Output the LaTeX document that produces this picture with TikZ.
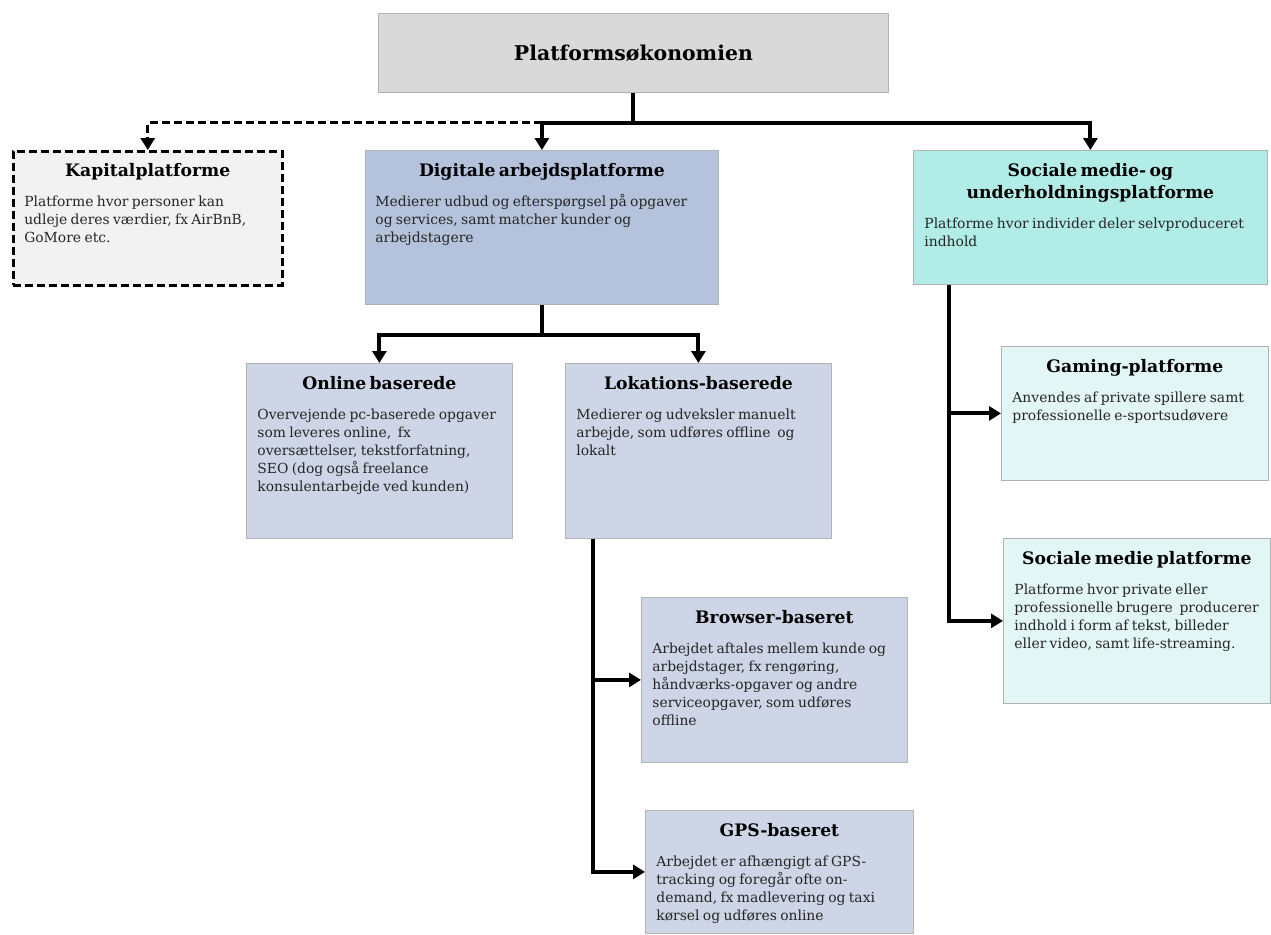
\documentclass[tikz,border=0pt]{standalone}
\usepackage{fontspec}
\setmainfont{DejaVu Serif}
\usetikzlibrary{arrows.meta,positioning}
\setlength{\parindent}{0pt}

\definecolor{topgray}{HTML}{D9D9D9}
\definecolor{kapgray}{HTML}{F2F2F2}
\definecolor{digblue}{HTML}{B4C2DC}
\definecolor{subblue}{HTML}{CDD5E6}
\definecolor{socteal}{HTML}{B2ECE6}
\definecolor{subteal}{HTML}{E2F6F5}

\newcommand{\headfont}{\bfseries\fontsize{17.2}{22}\selectfont}
\newcommand{\bodyfont}{\fontsize{13.9}{18}\selectfont}
% overskrift + broedtekst i en boks
\newcommand{\boxcontent}[2]{{\centering\headfont #1\par}\vspace{12pt}{\raggedright\bodyfont\color{black!85}#2\par}}

\begin{document}
\begin{tikzpicture}[x=1pt, y=-1pt,
    card/.style={draw=black!30, line width=0.8pt, anchor=north west, inner sep=0},
    cardtext/.style={anchor=north, text width=#1, inner sep=0},
    link/.style={line width=4pt, -{Triangle[length=12pt,width=14pt]}},
    dashlink/.style={link, line width=3pt, dash pattern=on 8pt off 4pt}]
    \useasboundingbox (0,0) rectangle (1271,934);

    % Top
    \node[card, fill=topgray, minimum width=510, minimum height=79] (top) at (378,13) {};
    \node[font=\bfseries\fontsize{20.4}{24}\selectfont] (toptxt) at (top.center) {Platformsøkonomien};

    % Niveau 1
    \node[card, draw=black, line width=2.5pt, dash pattern=on 8pt off 4pt, fill=kapgray,
          minimum width=269, minimum height=134] (kap) at (12,150) {};
    \node[cardtext=247, below=13pt of kap.north] (kaptxt) {\boxcontent{Kapitalplatforme}%
        {Platforme hvor personer kan\\ udleje deres værdier, fx AirBnB,\\ GoMore etc.}};

    \node[card, fill=digblue, minimum width=353, minimum height=154] (dig) at (365,150) {};
    \node[cardtext=333, below=13pt of dig.north] (digtxt) {\boxcontent{Digitale arbejdsplatforme}%
        {Medierer udbud og efterspørgsel på opgaver\\ og services, samt matcher kunder og\\ arbejdstagere}};

    \node[card, fill=socteal, minimum width=354, minimum height=134] (soc) at (913,150) {};
    \node[cardtext=332, below=13pt of soc.north] (soctxt) {\boxcontent{Sociale medie- og\\ underholdningsplatforme}%
        {Platforme hvor individer deler selvproduceret\\ indhold}};

    % Niveau 2 - digitale
    \node[card, fill=subblue, minimum width=266, minimum height=175] (onl) at (246,363) {};
    \node[cardtext=244, below=13pt of onl.north] (onltxt) {\boxcontent{Online baserede}%
        {Overvejende pc-baserede opgaver\\ som leveres online,~ fx\\ oversættelser, tekstforfatning,\\ SEO (dog også freelance\\ konsulentarbejde ved kunden)}};

    \node[card, fill=subblue, minimum width=266, minimum height=175] (lok) at (565,363) {};
    \node[cardtext=244, below=13pt of lok.north] (loktxt) {\boxcontent{Lokations-baserede}%
        {Medierer og udveksler manuelt\\ arbejde, som udføres offline~ og\\ lokalt}};

    % Niveau 3 - lokations
    \node[card, fill=subblue, minimum width=266, minimum height=165] (bro) at (641,597) {};
    \node[cardtext=244, below=13pt of bro.north] (brotxt) {\boxcontent{Browser-baseret}%
        {Arbejdet aftales mellem kunde og\\ arbejdstager, fx rengøring,\\ håndværks-opgaver og andre\\ serviceopgaver, som udføres\\ offline}};

    \node[card, fill=subblue, minimum width=268, minimum height=123] (gps) at (645,810) {};
    \node[cardtext=246, below=13pt of gps.north] (gpstxt) {\boxcontent{GPS-baseret}%
        {Arbejdet er afhængigt af GPS-\\ tracking og foregår ofte on-\\ demand, fx madlevering og taxi\\ kørsel og udføres online}};

    % Niveau 2 - sociale medier
    \node[card, fill=subteal, minimum width=267, minimum height=134] (gam) at (1001,346) {};
    \node[cardtext=245, below=13pt of gam.north] (gamtxt) {\boxcontent{Gaming-platforme}%
        {Anvendes af private spillere samt\\ professionelle e-sportsudøvere}};

    \node[card, fill=subteal, minimum width=267, minimum height=165] (sme) at (1003,538) {};
    \node[cardtext=245, below=13pt of sme.north] (smetxt) {\boxcontent{Sociale medie platforme}%
        {Platforme hvor private eller\\ professionelle brugere~ producerer\\ indhold i form af tekst, billeder\\ eller video, samt life-streaming.}};

    % Forbindelser
    \draw[link] (top.south) -- ++(0,30) coordinate (bar1) -| (dig.north);
    \draw[link] (bar1) -| (soc.north);
    \draw[dashlink] (dig.north |- bar1) -| (kap.north);

    \draw[link] (dig.south) -- ++(0,30) coordinate (bar2) -| (onl.north);
    \draw[link] (bar2) -| (lok.north);

    \draw[link] ([xshift=28pt]lok.south west) |- (bro.west);
    \draw[link] ([xshift=28pt]lok.south west) |- (gps.west);

    \draw[link] ([xshift=36pt]soc.south west) |- (gam.west);
    \draw[link] ([xshift=36pt]soc.south west) |- (sme.west);
\end{tikzpicture}
\end{document}
